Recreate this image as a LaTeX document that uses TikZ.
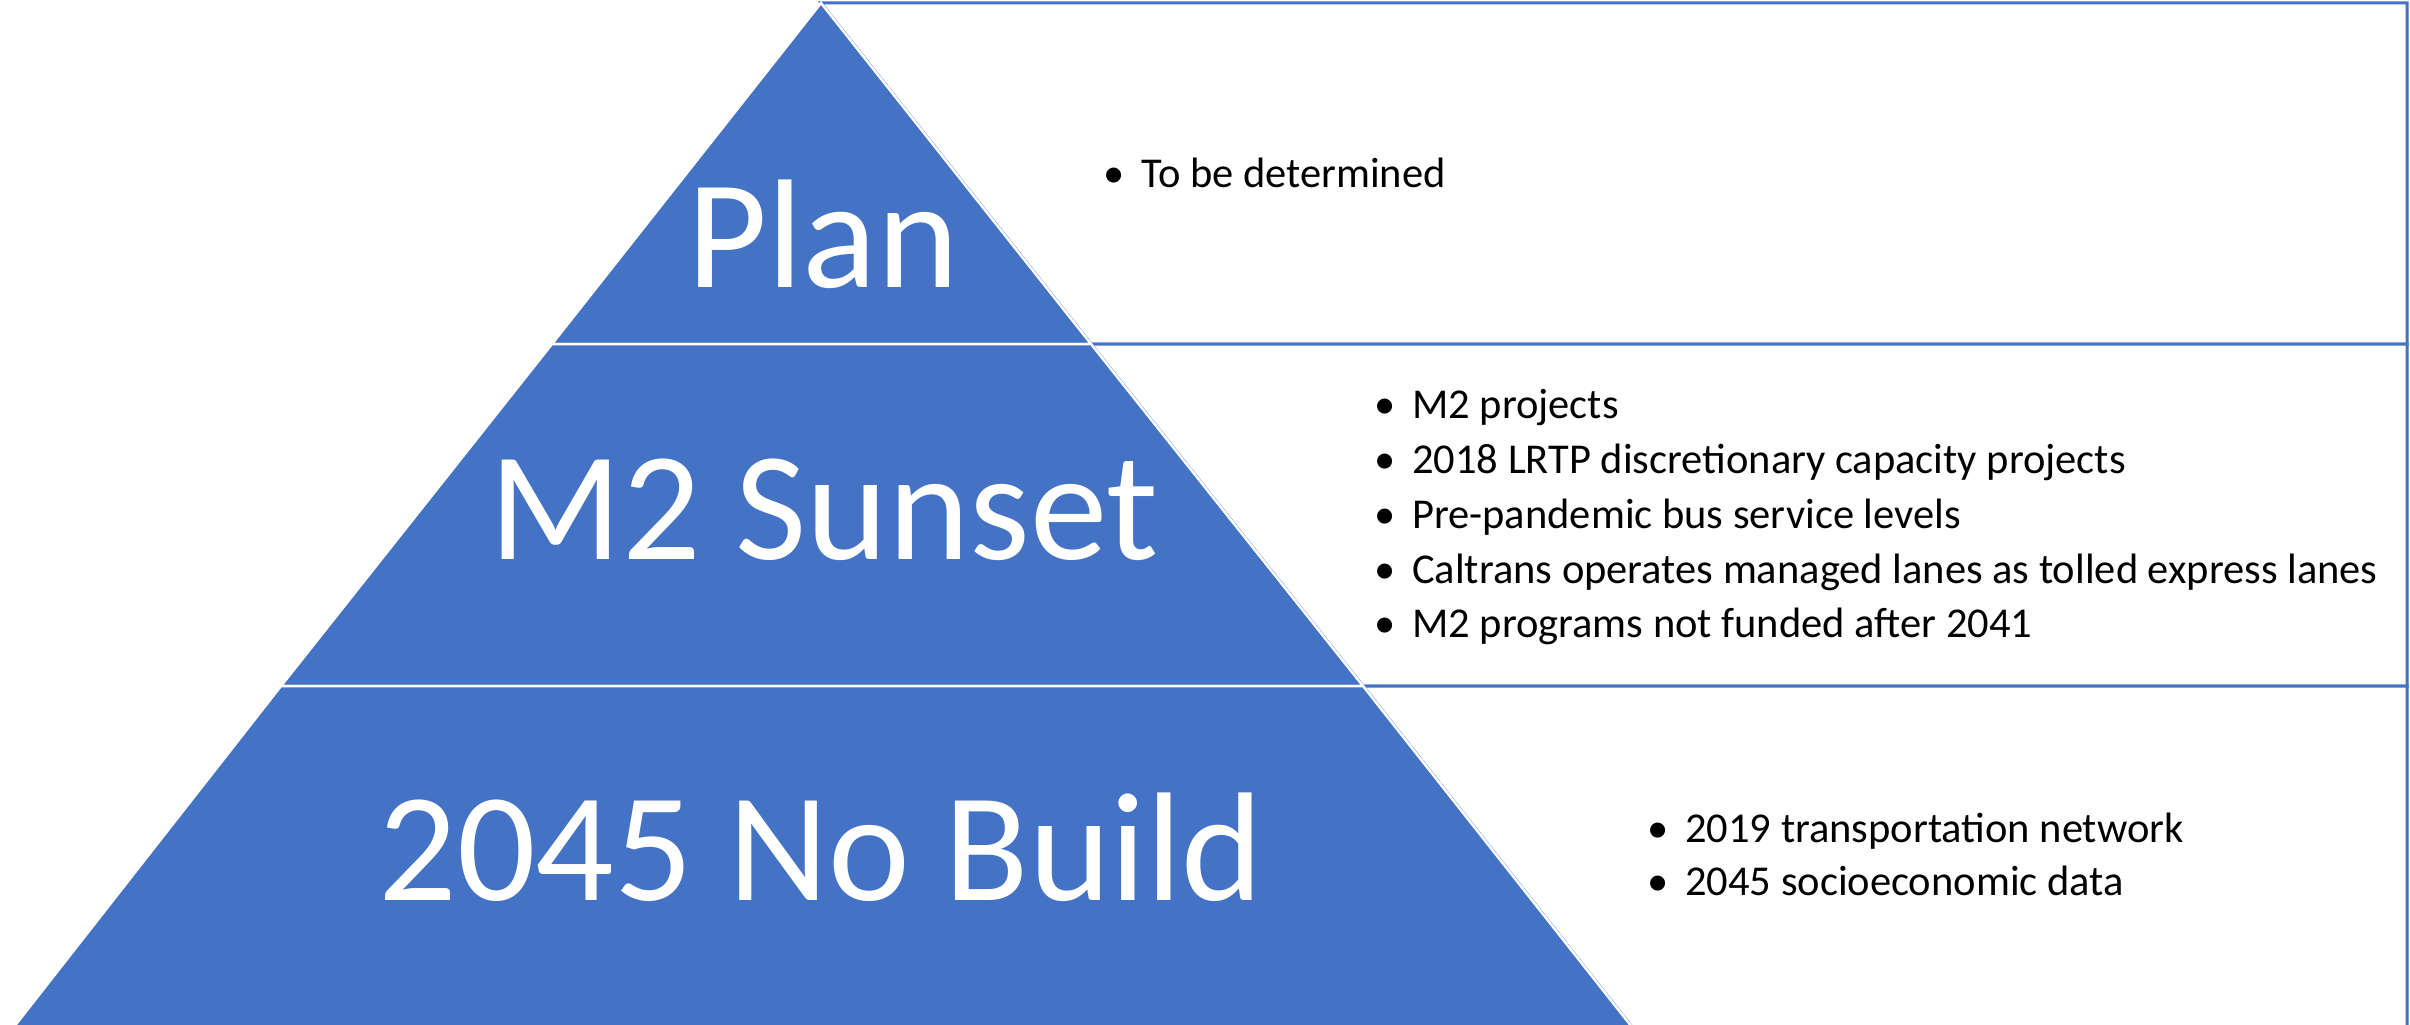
\documentclass[tikz,border=0pt]{standalone}
\usepackage{fontspec}
\setmainfont{Carlito}
\definecolor{pyrblue}{HTML}{4472C4}
\tikzset{
  seg/.style={fill=pyrblue, draw=white, line width=2.5pt, line join=miter},
  boxln/.style={draw=pyrblue, line width=3pt, fill=white},
  big/.style={text=white, font=\fontsize{155}{155}\selectfont, inner sep=0pt, anchor=base},
  item/.style={text=black, font=\fontsize{42.5}{42.5}\selectfont, inner sep=0pt, anchor=base west},
  dot/.style={text=black, font=\fontsize{42.5}{42.5}\selectfont, inner sep=0pt, anchor=base west}
}
\begin{document}
\begin{tikzpicture}[x=1pt,y=-1pt]
\useasboundingbox (0,0) rectangle (2410,1025);
\clip (0,0) rectangle (2410,1025);
% key points
\coordinate (apex) at (821,3);
\coordinate (l1) at (552,344);
\coordinate (r1) at (1091,344);
\coordinate (l2) at (281,686);
\coordinate (r2) at (1363,686);
% right boxes
\path[boxln] (apex) -- (2407,3) -- (2407,344) -- (r1) -- cycle;
\path[boxln] (r1) -- (2407,344) -- (2407,686) -- (r2) -- cycle;
\path[boxln] (r2) -- (2407,686) -- (2407,1060) -- (1658,1060) -- cycle;
% pyramid segments
\path[seg] (apex) -- (r1) -- (l1) -- cycle;
\path[seg] (l1) -- (r1) -- (r2) -- (l2) -- cycle;
\path[seg] (l2) -- (r2) -- (1658,1060) -- (-12,1060) -- cycle;
% labels
\node[big] (plan) at (823,287) {Plan};
\node[big] (sunset) at (824,559) {M2 Sunset};
\node[big] (nobuild) at (821,900) {2045 No Build};
% bullets top
\node[dot] (b1) at (1103,187) {•};
\node[item] (t1) at (1141,187) {To be determined};
% bullets middle
\node[dot] (b2) at (1374,418) {•};
\node[item] (t2) at (1412,418) {M2 projects};
\node[dot] (b3) at (1374,473) {•};
\node[item] (t3) at (1412,473) {2018 LRTP discretionary capacity projects};
\node[dot] (b4) at (1374,528) {•};
\node[item] (t4) at (1412,528) {Pre-pandemic bus service levels};
\node[dot] (b5) at (1374,583) {•};
\node[item] (t5) at (1412,583) {Caltrans operates managed lanes as tolled express lanes};
\node[dot] (b6) at (1374,637) {•};
\node[item] (t6) at (1412,637) {M2 programs not funded after 2041};
% bullets bottom
\node[dot] (b7) at (1647,842) {•};
\node[item] (t7) at (1685,842) {2019 transportation network};
\node[dot] (b8) at (1647,895) {•};
\node[item] (t8) at (1685,895) {2045 socioeconomic data};
\end{tikzpicture}
\end{document}
